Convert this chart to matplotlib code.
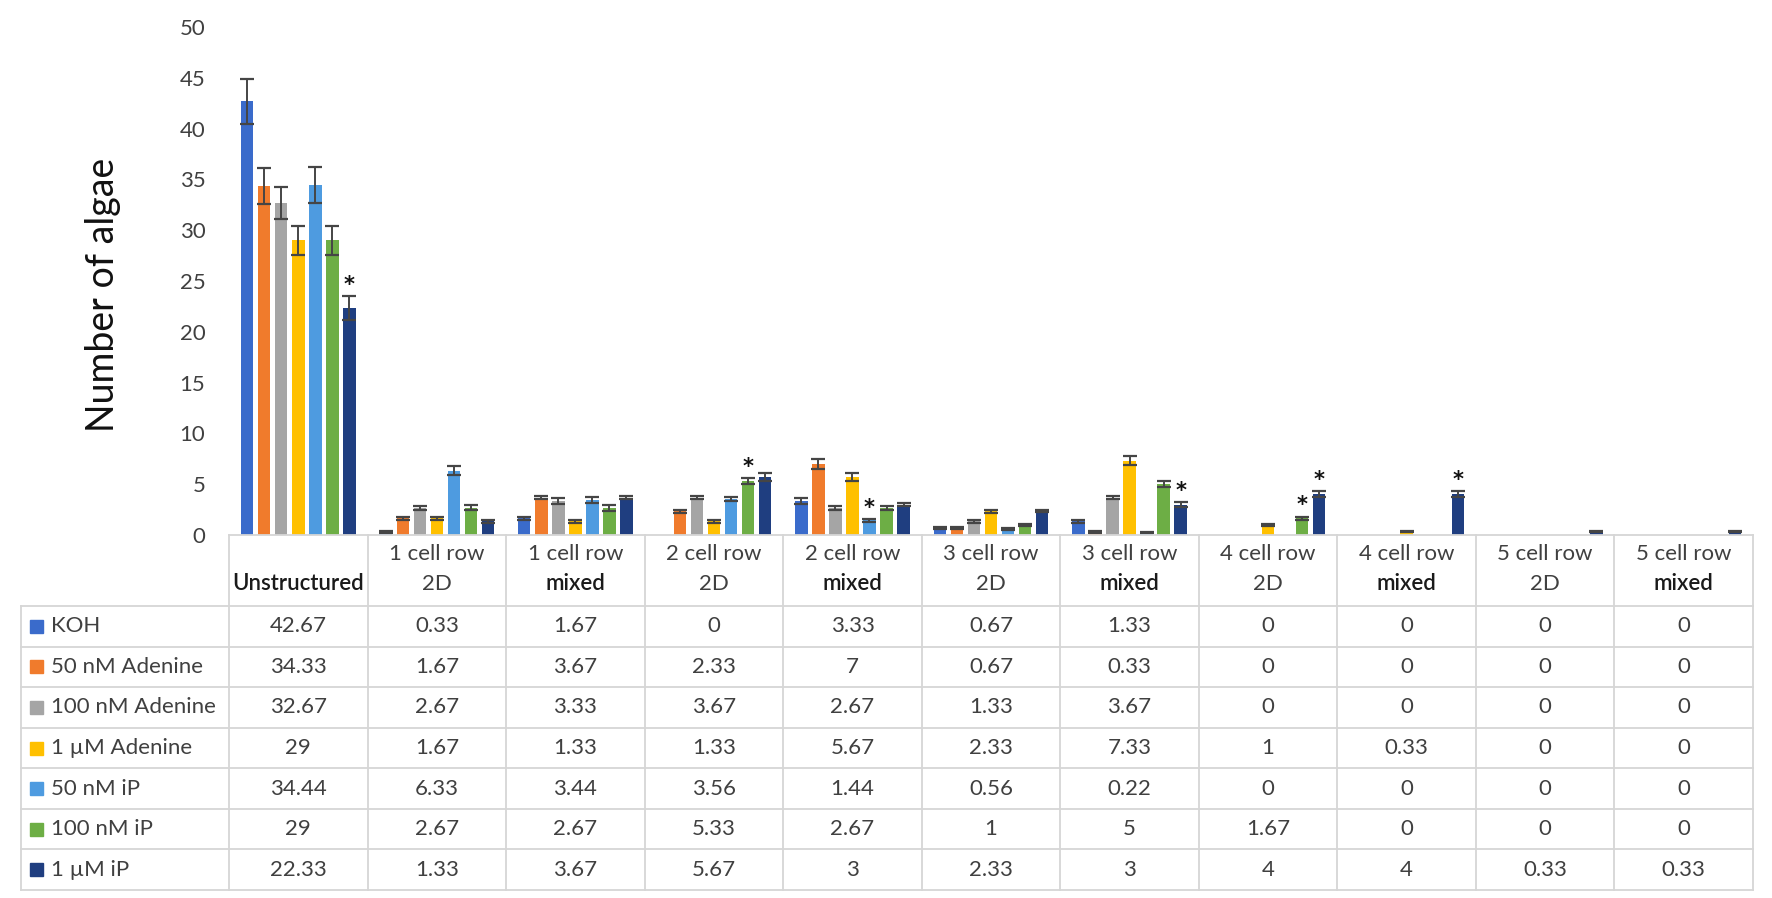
import matplotlib
matplotlib.use("Agg")
import matplotlib.pyplot as plt
import numpy as np

plt.rcParams['font.family'] = ['Lato', 'DejaVu Sans']

categories = ["Unstructured", "1 cell row\n2D", "1 cell row\nmixed", "2 cell row\n2D",
              "2 cell row\nmixed", "3 cell row\n2D", "3 cell row\nmixed", "4 cell row\n2D",
              "4 cell row\nmixed", "5 cell row\n2D", "5 cell row\nmixed"]
series = ["KOH", "50 nM Adenine", "100 nM Adenine", "1 \u00b5M Adenine",
          "50 nM iP", "100 nM iP", "1 \u00b5M iP"]
values = [
    [42.67, 0.33, 1.67, 0, 3.33, 0.67, 1.33, 0, 0, 0, 0],
    [34.33, 1.67, 3.67, 2.33, 7, 0.67, 0.33, 0, 0, 0, 0],
    [32.67, 2.67, 3.33, 3.67, 2.67, 1.33, 3.67, 0, 0, 0, 0],
    [29, 1.67, 1.33, 1.33, 5.67, 2.33, 7.33, 1, 0.33, 0, 0],
    [34.44, 6.33, 3.44, 3.56, 1.44, 0.56, 0.22, 0, 0, 0, 0],
    [29, 2.67, 2.67, 5.33, 2.67, 1, 5, 1.67, 0, 0, 0],
    [22.33, 1.33, 3.67, 5.67, 3, 2.33, 3, 4, 4, 0.33, 0.33],
]
errors = [
    [2.2, 0.1, 0.15, 0, 0.3, 0.1, 0.15, 0, 0, 0, 0],
    [1.8, 0.15, 0.15, 0.15, 0.5, 0.1, 0.1, 0, 0, 0, 0],
    [1.6, 0.2, 0.3, 0.15, 0.2, 0.15, 0.15, 0, 0, 0, 0],
    [1.4, 0.15, 0.1, 0.1, 0.4, 0.15, 0.4, 0.1, 0.05, 0, 0],
    [1.8, 0.45, 0.3, 0.2, 0.15, 0.1, 0.05, 0, 0, 0, 0],
    [1.4, 0.25, 0.3, 0.3, 0.2, 0.1, 0.3, 0.15, 0, 0, 0],
    [1.2, 0.1, 0.15, 0.4, 0.15, 0.1, 0.25, 0.3, 0.3, 0.05, 0.05],
]
# (category index, series index) marked with an asterisk
asterisks = [(0, 6), (3, 5), (4, 4), (6, 6), (7, 5), (7, 6), (8, 6)]
colors = ["#3A6BCB", "#F07B2C", "#A5A5A5", "#FFC000", "#4E9BE0", "#6DAE45", "#1F3E80"]
yticks = list(range(0, 51, 5))

W, H = 1772, 898
fig = plt.figure(figsize=(W / 100, H / 100), dpi=100)

# layout (pixels)
col_left, col_right = 229, 1753
y0_px, y50_px = 535, 27
tab_left = 21
header_bottom = 606
tab_bottom = 890
FS = 16

ax = fig.add_axes([col_left / W, 1 - y0_px / H, (col_right - col_left) / W, (y0_px - y50_px) / H])
n_cat = len(categories)
n_ser = len(series)
x = np.arange(n_cat)
pitch = 0.123
bw = 0.09
for i in range(n_ser):
    xs = x + (i - (n_ser - 1) / 2) * pitch
    vals = np.array(values[i], dtype=float)
    errs = np.array(errors[i], dtype=float)
    ax.bar(xs, vals, width=bw, color=colors[i], zorder=2)
    mask = vals > 0
    ax.errorbar(xs[mask], vals[mask], yerr=errs[mask], fmt='none', ecolor='#454545',
                elinewidth=1.4, capsize=5, capthick=1.6, zorder=3)
for (c, s) in asterisks:
    xs = c + (s - (n_ser - 1) / 2) * pitch
    top = values[s][c] + errors[s][c]
    ax.text(xs, top + 0.1, "*", ha='center', va='bottom', fontsize=15,
            fontweight='bold', color='#111111', family='DejaVu Sans')

ax.set_xlim(-0.5, n_cat - 0.5)
ax.set_ylim(0, 50)
ax.set_yticks(yticks)
ax.set_yticklabels([str(t) for t in yticks], fontsize=FS, color='#404040')
ax.tick_params(axis='y', length=0, pad=17)
ax.set_xticks([])
for sp in ax.spines.values():
    sp.set_visible(False)
ax.set_ylabel("Number of algae", fontsize=27, color='#111111')
ax.yaxis.set_label_coords((121 - col_left) / (col_right - col_left), (y0_px - 295) / (y0_px - y50_px))

# table
tab = fig.add_axes([0, 0, 1, 1])
tab.set_xlim(0, W)
tab.set_ylim(H, 0)
tab.axis('off')
gc = '#d6d6d6'
cw = (col_right - col_left) / n_cat
rh = (tab_bottom - header_bottom) / n_ser
tab.plot([col_left, col_right], [y0_px, y0_px], color=gc, lw=1.3)
for r in range(n_ser + 1):
    yy = header_bottom + r * rh
    tab.plot([tab_left, col_right], [yy, yy], color=gc, lw=1.3)
tab.plot([tab_left, tab_left], [header_bottom, tab_bottom], color=gc, lw=1.3)
for c in range(n_cat + 1):
    xx = col_left + c * cw
    tab.plot([xx, xx], [y0_px, tab_bottom], color=gc, lw=1.3)
for c, name in enumerate(categories):
    cx = col_left + (c + 0.5) * cw
    parts = name.split("\n")
    if len(parts) == 1:
        tab.text(cx, 584, parts[0], ha='center', va='center', fontsize=FS,
                 color='#1a1a1a', fontweight='semibold')
    else:
        tab.text(cx, 554, parts[0], ha='center', va='center', fontsize=FS, color='#404040')
        bold = parts[1] == 'mixed'
        tab.text(cx, 584, parts[1], ha='center', va='center', fontsize=FS,
                 color='#1a1a1a' if bold else '#404040',
                 fontweight='semibold' if bold else 'normal')
for r in range(n_ser):
    cy = header_bottom + (r + 0.5) * rh
    tab.add_patch(plt.Rectangle((30, cy - 6.5), 13, 13, color=colors[r]))
    tab.text(51, cy, series[r], ha='left', va='center', fontsize=FS, color='#404040')
    for c in range(n_cat):
        v = values[r][c]
        cx = col_left + (c + 0.5) * cw
        tab.text(cx, cy, f"{v:g}", ha='center', va='center', fontsize=FS, color='#404040')

fig.savefig("out.png", dpi=100)
